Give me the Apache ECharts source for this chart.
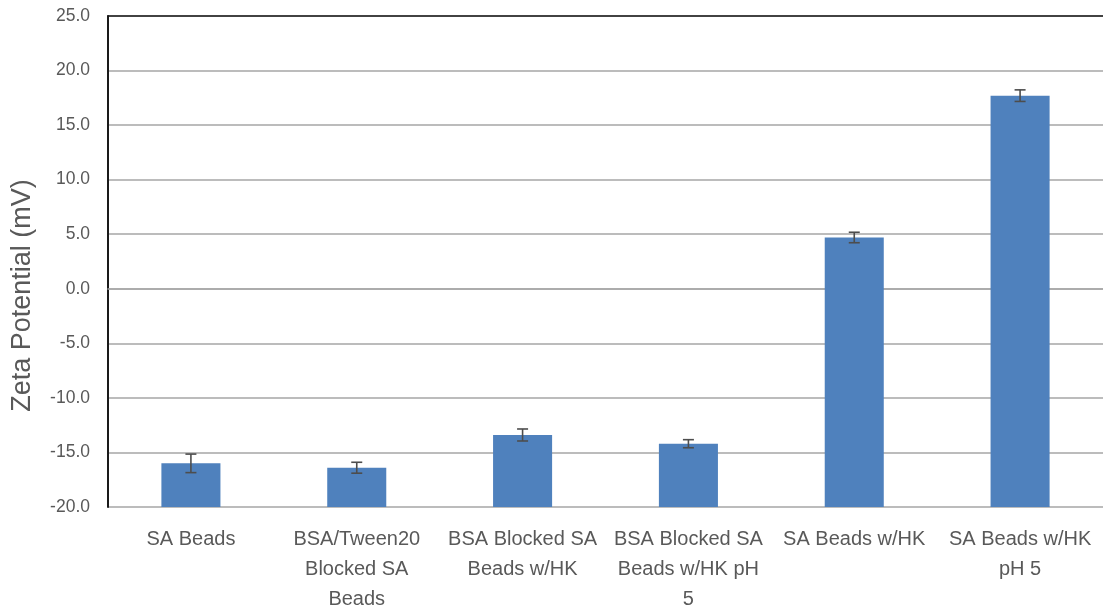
<!DOCTYPE html>
<html>
<head>
<meta charset="utf-8">
<script src="https://cdn.jsdelivr.net/npm/echarts@6/dist/echarts.min.js"></script>
<style>html,body{margin:0;padding:0;background:#fff;}#chart{width:1103px;height:607px;}</style>
</head>
<body>
<div id="chart"></div>
<script>
const categories = ["SA Beads", "BSA/Tween20\nBlocked SA\nBeads", "BSA Blocked SA\nBeads w/HK", "BSA Blocked SA\nBeads w/HK pH\n5", "SA Beads w/HK", "SA Beads w/HK\npH 5"];
const values = [-16.0, -16.4, -13.4, -14.2, 4.7, 17.7];
const errors = [0.85, 0.5, 0.55, 0.37, 0.48, 0.53];
const yMin = -20, yMax = 25, yStep = 5;

const barData = values.map((v, i) => [i, v]);
const errData = values.map((v, i) => [i, v - errors[i], v + errors[i]]);

const chart = echarts.init(document.getElementById('chart'), null, {renderer: 'canvas'});
const textColor = '#595959';
const font = '"Liberation Sans", Arial, sans-serif';

chart.setOption({
  animation: false,
  backgroundColor: '#fff',
  grid: {left: 108, right: 0, top: 16, bottom: 100, containLabel: false, outerBoundsMode: 'none'},
  xAxis: [{
    type: 'category',
    data: categories,
    boundaryGap: true,
    axisLine: {show: true, lineStyle: {color: '#a6a6a6', width: 1.5}},
    axisTick: {show: false},
    axisLabel: {interval: 0, color: textColor, fontFamily: font, fontSize: 20, lineHeight: 30, margin: 17}
  }, {
    type: 'category',
    position: 'top',
    data: categories,
    axisLine: {show: true, onZero: false, lineStyle: {color: '#1a1a1a', width: 1.5}},
    axisTick: {show: false},
    axisLabel: {show: false}
  }],
  yAxis: {
    type: 'value',
    min: yMin, max: yMax, interval: yStep,
    name: 'Zeta Potential (mV)',
    nameLocation: 'middle',
    nameRotate: 90,
    nameGap: 72,
    nameTextStyle: {color: textColor, fontFamily: font, fontSize: 27, padding: [0, 68, 0, 0]},
    axisLine: {show: true, onZero: false, lineStyle: {color: '#1a1a1a', width: 2}},
    axisTick: {show: false},
    axisLabel: {color: textColor, fontFamily: font, fontSize: 17.5, margin: 18, formatter: v => v.toFixed(1)},
    splitLine: {show: true, lineStyle: {color: '#a6a6a6', width: 1.5}}
  },
  series: [{
    type: 'custom',
    xAxisIndex: 0,
    data: barData,
    renderItem: function (params, api) {
      const x = api.value(0), v = api.value(1);
      const top = api.coord([x, v]);
      const base = api.coord([x, yMin]);
      const w = api.size([1, 0])[0] * 0.356;
      return {
        type: 'rect',
        shape: {x: top[0] - w / 2, y: top[1], width: w, height: base[1] - top[1]},
        style: {fill: '#4F81BD'}
      };
    },
    z: 2
  }, {
    type: 'custom',
    xAxisIndex: 0,
    data: errData,
    renderItem: function (params, api) {
      const x = api.value(0);
      const lo = api.coord([x, api.value(1)]);
      const hi = api.coord([x, api.value(2)]);
      const cap = 5.5;
      const st = {stroke: '#4d4d4d', lineWidth: 1.6};
      return {
        type: 'group',
        children: [
          {type: 'line', shape: {x1: lo[0], y1: lo[1], x2: hi[0], y2: hi[1]}, style: st},
          {type: 'line', shape: {x1: lo[0] - cap, y1: lo[1], x2: lo[0] + cap, y2: lo[1]}, style: st},
          {type: 'line', shape: {x1: hi[0] - cap, y1: hi[1], x2: hi[0] + cap, y2: hi[1]}, style: st}
        ]
      };
    },
    z: 3
  }]
});
</script>
</body>
</html>
